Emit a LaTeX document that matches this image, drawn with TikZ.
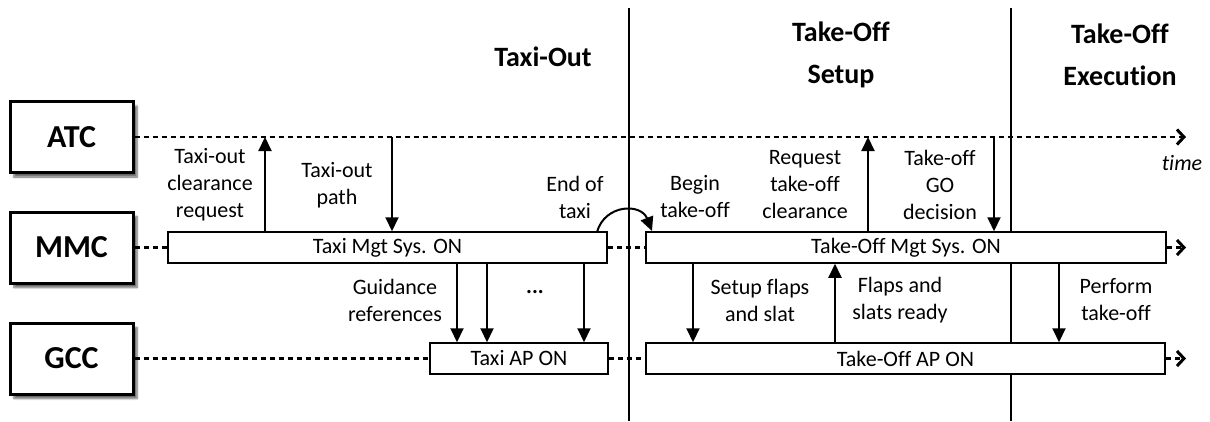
\documentclass[tikz,border=0pt]{standalone}
\usepackage{fontspec}
\setmainfont{Carlito}[Ligatures={NoCommon}]
\usetikzlibrary{arrows.meta,shadows.blur}

\begin{document}
\begin{tikzpicture}[x=1pt,y=-1pt,
  lanebox/.style={draw,line width=3pt,fill=white,minimum width=123pt,minimum height=71pt,
    inner sep=0pt,font=\fontsize{32}{38}\selectfont\bfseries,
    blur shadow={shadow xshift=4pt,shadow yshift=-4.5pt,shadow blur steps=6,shadow opacity=60}},
  phasebox/.style={draw,line width=1.5pt,fill=white,minimum height=31pt,inner sep=0pt,
    font=\fontsize{22}{27}\selectfont},
  lbl/.style={align=center,inner sep=0pt,font=\fontsize{22}{27}\selectfont},
  ttl/.style={align=center,inner sep=0pt,font=\fontsize{28}{42}\selectfont\bfseries},
  dline/.style={line width=2.5pt,dash pattern=on 5.5pt off 3.5pt},
  chev/.style={-{Straight Barb[length=7pt,width=15pt,line width=3pt]}},
  arr/.style={line width=2pt,-{Triangle[length=14pt,width=13pt]}},
  divider/.style={line width=2pt}]

\useasboundingbox (0,0) rectangle (1210,421);

% phase dividers
\coordinate (d1t) at (629,8);   \coordinate (d1b) at (629,421);
\coordinate (d2t) at (1011,8);  \coordinate (d2b) at (1011,421);
\draw[divider] (d1t) -- (d1b);
\draw[divider] (d2t) -- (d2b);

% phase titles
\node[ttl] (tout) at (543,57) {Taxi-Out};
\node[ttl] (tset) at (841,55) {Take-Off\\Setup};
\node[ttl] (texe) at (1120,55) {Take-Off\\Execution};

% actors
\node[lanebox] (atc) at (71.5,137) {ATC};
\node[lanebox] (mmc) at (71.5,247.5) {MMC};
\node[lanebox] (gcc) at (71.5,358.5) {GCC};

% system states
\node[phasebox,minimum width=439pt] (tms)  at (387.5,247.5) {Taxi Mgt Sys. ON};
\node[phasebox,minimum width=520pt] (toms) at (906,247.5)   {Take-Off Mgt Sys. ON};
\node[phasebox,minimum width=178pt] (tap)  at (519,358.5)   {Taxi AP ON};
\node[phasebox,minimum width=519pt] (toap) at (905.5,358.5) {Take-Off AP ON};

% time lines
\coordinate (atcend) at (1186,137);
\coordinate (mmcend) at (1186,247.5);
\coordinate (gccend) at (1186,358.5);
\draw[dline,chev] (atc.east) -- (atcend);
\draw[dline] (mmc.east) -- (tms.west);
\draw[dline] (tms.east) -- (toms.west);
\draw[dline,chev] (toms.east) -- (mmcend);
\draw[dline] (gcc.east) -- (tap.west);
\draw[dline] (tap.east) -- (toap.west);
\draw[dline,chev] (toap.east) -- (gccend);
\node[lbl,font=\fontsize{22}{27}\selectfont\itshape] (time) at (1182,163) {time};

% ATC <-> MMC exchanges
\coordinate (a1) at (265,137);
\coordinate (a2) at (392,137);
\coordinate (a3) at (868,137);
\coordinate (a4) at (994,137);
\draw[arr] (tms.north -| a1) -- (a1);
\draw[arr] (a2) -- (tms.north -| a2);
\draw[arr] (toms.north -| a3) -- (a3);
\draw[arr] (a4) -- (toms.north -| a4);

\node[lbl] (l1) at (210,185) {Taxi-out\\clearance\\request};
\node[lbl] (l2) at (337,185) {Taxi-out\\path};
\node[lbl] (l3) at (575,197) {End of\\taxi};
\node[lbl] (l4) at (695,197) {Begin\\take-off};
\node[lbl] (l5) at (805,185) {Request\\take-off\\clearance};
\node[lbl] (l6) at (940,185) {Take-off\\GO\\decision};

% hand-over between the two management systems
\coordinate (h1) at (597,232);
\coordinate (h2) at (652,231);
\draw[arr] (h1) .. controls (605,204) and (641,203) .. (h2);

% MMC <-> GCC exchanges
\coordinate (g1) at (457,0);
\coordinate (g2) at (487,0);
\coordinate (g3) at (584,0);
\coordinate (g4) at (693,0);
\coordinate (g5) at (835,0);
\coordinate (g6) at (1059,0);
\draw[arr] (tms.south -| g1) -- (tap.north -| g1);
\draw[arr] (tms.south -| g2) -- (tap.north -| g2);
\draw[arr] (tms.south -| g3) -- (tap.north -| g3);
\draw[arr] (toms.south -| g4) -- (toap.north -| g4);
\draw[arr] (toap.north -| g5) -- (toms.south -| g5);
\draw[arr] (toms.south -| g6) -- (toap.north -| g6);

\node[lbl] (l7) at (395,300) {Guidance\\references};
\node[lbl,font=\fontsize{22}{27}\selectfont\bfseries] (dots) at (535,292) {...};
\node[lbl] (l8) at (760,300) {Setup flaps\\and slat};
\node[lbl] (l9) at (900,300) {Flaps and\\slats ready};
\node[lbl] (l10) at (1116,300) {Perform\\take-off};

\end{tikzpicture}
\end{document}
